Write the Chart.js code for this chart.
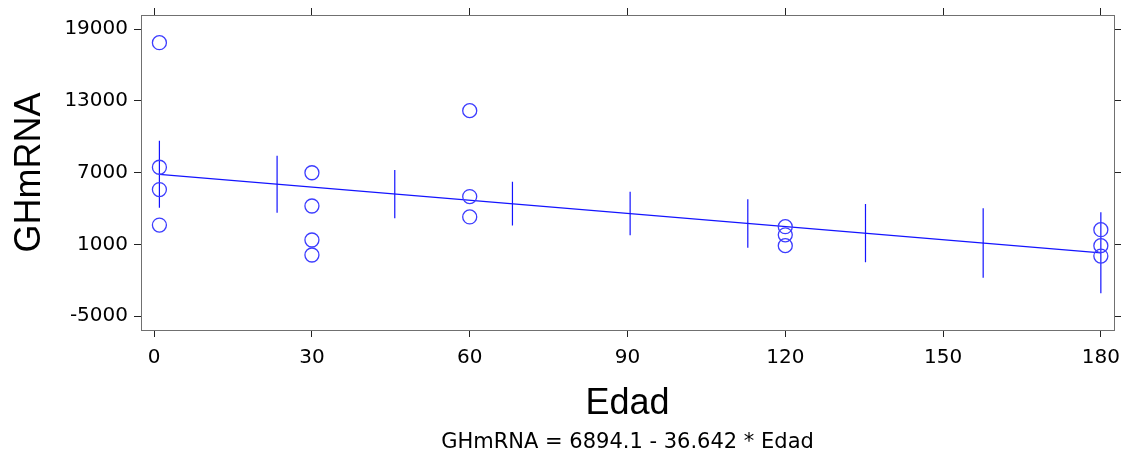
<!DOCTYPE html>
<html>
<head>
<meta charset="utf-8">
<script src="https://cdn.jsdelivr.net/npm/chart.js@4"></script>
<style>
  html, body { margin: 0; padding: 0; background: #ffffff; }
  #wrap { width: 1127px; height: 457px; }
</style>
</head>
<body>
<div id="wrap"><canvas id="c" width="1127" height="457"></canvas></div>
<script>
// ---- data ----
const edad   = [1, 1, 1, 1, 30, 30, 30, 30, 60, 60, 60, 120, 120, 120, 180, 180, 180];
const ghmrna = [17860, 7450, 5580, 2620, 6990, 4210, 1370, 115, 12180, 5000, 3300, 2480, 1800, 900, 2230, 900, 30];

const fitX = [1, 180];
const fitY = [6857, 299];

const bandX    = [1, 23.375, 45.75, 68.125, 90.5, 112.875, 135.25, 157.625, 180];
const bandHigh = [9660, 8413, 7218, 6240, 5405, 4770, 4377, 4018, 3684];
const bandLow  = [4068, 3650, 3182, 2590, 1760, 725, -495, -1781, -3085];

const xTicks = [0, 30, 60, 90, 120, 150, 180];
const yTicks = [-5000, 1000, 7000, 13000, 19000];

const xTitle = 'Edad';
const yTitle = 'GHmRNA';
const equation = 'GHmRNA = 6894.1 - 36.642 * Edad';

// ---- build datasets ----
const points = edad.map((x, i) => ({ x: x, y: ghmrna[i] }));
const fitLine = fitX.map((x, i) => ({ x: x, y: fitY[i] }));
const bands = [];
bandX.forEach((x, i) => {
  bands.push({ x: x, y: bandLow[i] });
  bands.push({ x: x, y: bandHigh[i] });
  bands.push({ x: x, y: null });
});

Chart.defaults.font.family = "'DejaVu Sans', sans-serif";
Chart.defaults.color = '#000';

const tickFont = { family: "'DejaVu Sans', sans-serif", size: 20 };
const titleFont = { family: "'Liberation Sans', Arial, sans-serif", size: 36 };
const eqFont = { family: "'DejaVu Sans', sans-serif", size: 21 };
const gridCommon = { drawOnChartArea: false, drawTicks: true, tickLength: 7, color: '#222', lineWidth: 1 };
const borderCommon = { display: true, color: '#707070', width: 1 };
const plain = v => String(v);
const fitH = h => s => { s.height = h; s.paddingLeft = 0; s.paddingRight = 0; };
const fitW = w => s => { s.width = w; s.paddingTop = 0; s.paddingBottom = 0; };

new Chart(document.getElementById('c'), {
  type: 'scatter',
  data: {
    datasets: [
      {
        type: 'line', data: bands, borderColor: '#1414ff', borderWidth: 1.2,
        pointRadius: 0, spanGaps: false, fill: false, order: 3
      },
      {
        type: 'line', data: fitLine, borderColor: '#1414ff', borderWidth: 1.2,
        pointRadius: 0, fill: false, order: 2
      },
      {
        type: 'scatter', data: points, pointStyle: 'circle', pointRadius: 7,
        borderColor: '#3c3cff', backgroundColor: 'rgba(0,0,0,0)', borderWidth: 1.3, order: 1
      }
    ]
  },
  options: {
    responsive: false,
    animation: false,
    devicePixelRatio: 1,
    layout: { padding: 0 },
    plugins: {
      legend: { display: false },
      tooltip: { enabled: false },
      title: { display: false }
    },
    scales: {
      x: {
        type: 'linear', position: 'bottom', weight: 0, min: -2.5, max: 182.5,
        afterBuildTicks: s => { s.ticks = xTicks.map(v => ({ value: v })); },
        afterFit: fitH(96.8),
        ticks: { font: tickFont, color: '#000', padding: 9, maxRotation: 0, autoSkip: false, callback: plain },
        grid: gridCommon, border: borderCommon,
        title: { display: true, text: xTitle, font: titleFont, color: '#000', padding: { top: 0, bottom: 1 } }
      },
      x3: {
        type: 'linear', position: 'bottom', weight: 5, min: -2.5, max: 182.5,
        afterFit: fitH(30.2),
        ticks: { display: false },
        grid: { display: false, drawTicks: false },
        border: { display: false },
        title: { display: true, text: equation, font: eqFont, color: '#000', padding: { top: 0, bottom: 2 } }
      },
      x2: {
        type: 'linear', position: 'top', min: -2.5, max: 182.5,
        afterBuildTicks: s => { s.ticks = xTicks.map(v => ({ value: v })); },
        afterFit: fitH(15),
        ticks: { display: false },
        grid: gridCommon, border: borderCommon
      },
      y: {
        type: 'linear', position: 'left', min: -6150, max: 20170,
        afterBuildTicks: s => { s.ticks = yTicks.map(v => ({ value: v })); },
        afterFit: fitW(141),
        ticks: { font: tickFont, color: '#000', padding: 6, autoSkip: false, callback: plain },
        grid: gridCommon, border: borderCommon,
        title: { display: true, text: yTitle, font: titleFont, color: '#000', padding: { top: 8, bottom: 0 } }
      },
      y2: {
        type: 'linear', position: 'right', min: -6150, max: 20170,
        afterBuildTicks: s => { s.ticks = yTicks.map(v => ({ value: v })); },
        afterFit: fitW(13),
        ticks: { display: false },
        grid: gridCommon, border: borderCommon
      }
    }
  }
});
</script>
</body>
</html>
